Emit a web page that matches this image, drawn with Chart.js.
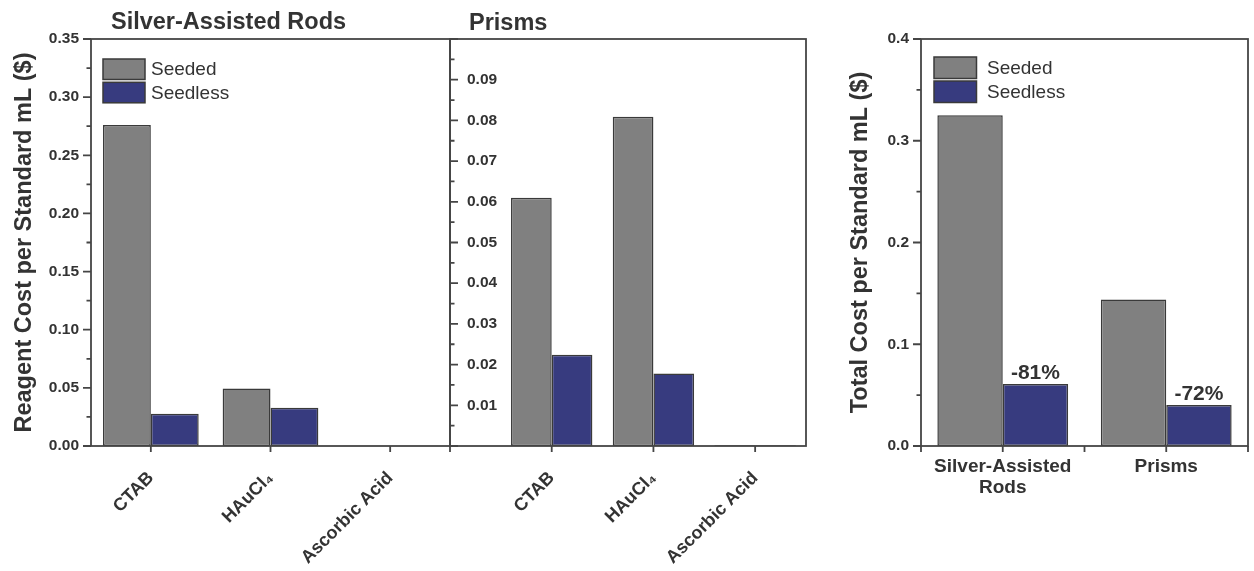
<!DOCTYPE html>
<html>
<head>
<meta charset="utf-8">
<title>Reagent and total cost per standard mL</title>
<script src="https://cdn.jsdelivr.net/npm/chart.js@4/dist/chart.umd.min.js"></script>
<style>
  html, body { margin: 0; padding: 0; background: #ffffff; }
  #wrap { position: relative; width: 1254px; height: 571px; overflow: hidden; }
  #wrap canvas { position: absolute; left: 0; top: 0; }
</style>
</head>
<body>
<div id="wrap">
  <canvas id="rods" width="1254" height="571"></canvas>
  <canvas id="prisms" width="1254" height="571"></canvas>
  <canvas id="total" width="1254" height="571"></canvas>
</div>
<script>
// ---- data ----
const seriesNames = ['Seeded', 'Seedless'];
const reagentLabels = ['CTAB', 'HAuCl\u2084', 'Ascorbic Acid'];
const rodsSeeded = [0.276, 0.0495, 0.0003];
const rodsSeedless = [0.0278, 0.033, 0.0003];
const prismsSeeded = [0.0610, 0.0809, 0.0002];
const prismsSeedless = [0.0224, 0.0178, 0.0002];
const totalLabels = [['Silver-Assisted', 'Rods'], 'Prisms'];
const totalSeeded = [0.325, 0.144];
const totalSeedless = [0.061, 0.0404];
const rodsYTicks = [0, 0.05, 0.10, 0.15, 0.20, 0.25, 0.30, 0.35];
const prismsYTicks = [0.01, 0.02, 0.03, 0.04, 0.05, 0.06, 0.07, 0.08, 0.09];
const totalYTicks = [0, 0.1, 0.2, 0.3, 0.4];
const rodsTitle = 'Silver-Assisted Rods';
const prismsTitle = 'Prisms';
const reagentAxisTitle = 'Reagent Cost per Standard mL ($)';
const totalAxisTitle = 'Total Cost per Standard mL ($)';

// ---- styling ----
const FONT = '"Liberation Sans", Arial, Helvetica, sans-serif';
const TEXT = '#333333';
const LINE = '#454545';
const SEEDED_FILL = '#808080';
const SEEDLESS_FILL = '#373b7f';
const BAR_EDGE = '#3a3a3a';

function points(values) {
  return values.map((v, i) => ({ x: i + 1, y: v }));
}

function datasets(seeded, seedless) {
  return [
    { label: seriesNames[0], data: points(seeded), backgroundColor: SEEDED_FILL,
      borderColor: BAR_EDGE, borderWidth: 1.5, borderSkipped: false },
    { label: seriesNames[1], data: points(seedless), backgroundColor: SEEDLESS_FILL,
      borderColor: BAR_EDGE, borderWidth: 1.5, borderSkipped: false }
  ];
}

// Frame, tick marks, panel title, inset legend and reduction labels.
const panelDecor = {
  id: 'panelDecor',
  afterDatasetsDraw(chart, args, o) {
    const { ctx, chartArea: a } = chart;
    const x = chart.scales.x, y = chart.scales.y;
    ctx.save();
    ctx.strokeStyle = LINE;
    ctx.lineWidth = 1.8;
    ctx.lineCap = 'butt';

    // tick marks
    ctx.beginPath();
    const dir = o.yInside ? 1 : -1;
    const n = Math.round((y.max - y.min) / o.yMinor);
    for (let i = 0; i <= n; i++) {
      const v = y.min + i * o.yMinor;
      const r = v / o.yMajor;
      const major = Math.abs(r - Math.round(r)) < 1e-6;
      const len = major ? 8 : 4.5;
      const py = y.getPixelForValue(v);
      ctx.moveTo(a.left, py);
      ctx.lineTo(a.left + dir * len, py);
    }
    const k0 = Math.ceil(x.min / o.xStep - 1e-9);
    const k1 = Math.floor(x.max / o.xStep + 1e-9);
    for (let k = k0; k <= k1; k++) {
      const px = x.getPixelForValue(k * o.xStep);
      ctx.moveTo(px, a.bottom);
      ctx.lineTo(px, a.bottom + 6);
    }
    ctx.stroke();

    // frame
    ctx.strokeRect(a.left, a.top, a.right - a.left, a.bottom - a.top);

    // panel title
    if (o.title) {
      ctx.fillStyle = TEXT;
      ctx.font = 'bold 23.5px ' + FONT;
      ctx.textAlign = 'left';
      ctx.textBaseline = 'alphabetic';
      ctx.fillText(o.title.text, a.left + o.title.dx, a.top + o.title.dy);
    }

    // legend inside the plot
    if (o.legend) {
      const L = o.legend;
      ctx.font = '19px ' + FONT;
      ctx.textBaseline = 'middle';
      ctx.textAlign = 'left';
      chart.data.datasets.forEach((ds, i) => {
        const bx = a.left + L.dx;
        const by = a.top + L.dy + i * (L.boxH + L.gap);
        ctx.fillStyle = ds.backgroundColor;
        ctx.fillRect(bx, by, L.boxW, L.boxH);
        ctx.lineWidth = 1.5;
        ctx.strokeStyle = BAR_EDGE;
        ctx.strokeRect(bx, by, L.boxW, L.boxH);
        ctx.fillStyle = TEXT;
        ctx.fillText(ds.label, bx + L.boxW + L.textGap, by + L.boxH / 2 + 1);
      });
    }

    // percentage change of seedless vs seeded
    if (o.reduction) {
      const base = chart.data.datasets[0].data;
      const meta = chart.getDatasetMeta(1);
      ctx.font = 'bold 21px ' + FONT;
      ctx.fillStyle = TEXT;
      ctx.textAlign = 'center';
      ctx.textBaseline = 'alphabetic';
      chart.data.datasets[1].data.forEach((p, i) => {
        const pct = Math.round((p.y / base[i].y - 1) * 100);
        const bar = meta.data[i];
        ctx.fillText(pct + '%', bar.x, bar.y - 5);
      });
    }
    ctx.restore();
  }
};

function fixY(width) {
  return s => { s.width = width; s.paddingTop = 0; s.paddingBottom = 0; };
}
function fixX(height) {
  return s => { s.height = height; s.paddingLeft = 0; s.paddingRight = 0; };
}
function setTicks(values) {
  return s => { s.ticks = values.map(v => ({ value: v })); };
}

function makePanel(id, cfg) {
  return new Chart(document.getElementById(id), {
    type: 'bar',
    data: { datasets: datasets(cfg.seeded, cfg.seedless) },
    plugins: [panelDecor],
    options: {
      responsive: false,
      animation: false,
      events: [],
      layout: { autoPadding: false, padding: cfg.padding },
      datasets: { bar: { categoryPercentage: 0.8, barPercentage: 1.0 } },
      scales: {
        x: {
          type: 'linear',
          offset: false,
          min: cfg.xMin,
          max: cfg.xMax,
          grid: { display: false, drawTicks: false },
          border: { display: false },
          afterBuildTicks: setTicks(cfg.labels.map((_, i) => i + 1)),
          afterFit: fixX(125),
          ticks: {
            autoSkip: false,
            minRotation: cfg.rotation,
            maxRotation: cfg.rotation,
            padding: cfg.xPad,
            color: TEXT,
            font: { family: FONT, size: cfg.xFont, weight: 'bold', lineHeight: 1.12 },
            callback: v => cfg.labels[Math.round(v) - 1]
          }
        },
        y: {
          type: 'linear',
          min: cfg.yMin,
          max: cfg.yMax,
          grid: { display: false, drawTicks: false },
          border: { display: false },
          afterBuildTicks: setTicks(cfg.yTicks),
          afterFit: fixY(cfg.yWidth),
          ticks: {
            mirror: !!cfg.yInside,
            padding: cfg.yPad,
            color: TEXT,
            font: { family: FONT, size: 15.5, weight: 'bold' },
            callback: v => v.toFixed(cfg.decimals)
          },
          title: cfg.axisTitle ? {
            display: true,
            text: cfg.axisTitle,
            color: TEXT,
            padding: { top: cfg.titlePad, bottom: 0 },
            font: { family: FONT, size: 23.5, weight: 'bold' }
          } : { display: false }
        }
      },
      plugins: {
        legend: { display: false },
        tooltip: { enabled: false },
        panelDecor: cfg.decor
      }
    }
  });
}

makePanel('rods', {
  seeded: rodsSeeded, seedless: rodsSeedless, labels: reagentLabels,
  xMin: 0.5, xMax: 3.5, yMin: 0, yMax: 0.35, yTicks: rodsYTicks, decimals: 2,
  padding: { left: 0, right: 804, top: 39, bottom: 0 },
  yWidth: 91, yPad: 12, xPad: 22, xFont: 18, rotation: 45,
  axisTitle: reagentAxisTitle, titlePad: 10,
  decor: {
    yMajor: 0.05, yMinor: 0.025, xStep: 1,
    title: { text: rodsTitle, dx: 20, dy: -10.5 },
    legend: { dx: 12, dy: 20, boxW: 42, boxH: 20.5, gap: 2.8, textGap: 6 }
  }
});

makePanel('prisms', {
  seeded: prismsSeeded, seedless: prismsSeedless, labels: reagentLabels,
  xMin: 0, xMax: 3.5, yMin: 0, yMax: 0.1, yTicks: prismsYTicks, decimals: 2,
  padding: { left: 450, right: 448, top: 39, bottom: 0 },
  yWidth: 0, yPad: 17, yInside: true, xPad: 22, xFont: 18, rotation: 45,
  decor: {
    yMajor: 0.01, yMinor: 0.005, xStep: 1, yInside: true,
    title: { text: prismsTitle, dx: 19, dy: -9.5 }
  }
});

makePanel('total', {
  seeded: totalSeeded, seedless: totalSeedless, labels: totalLabels,
  xMin: 0.5, xMax: 2.5, yMin: 0, yMax: 0.4, yTicks: totalYTicks, decimals: 1,
  padding: { left: 830, right: 6, top: 39, bottom: 0 },
  yWidth: 91, yPad: 12, xPad: 10, xFont: 19, rotation: 0,
  axisTitle: totalAxisTitle, titlePad: 16,
  decor: {
    yMajor: 0.1, yMinor: 0.05, xStep: 0.5,
    legend: { dx: 13, dy: 18, boxW: 42.5, boxH: 21.5, gap: 2.5, textGap: 10.5 },
    reduction: true
  }
});
</script>
</body>
</html>
